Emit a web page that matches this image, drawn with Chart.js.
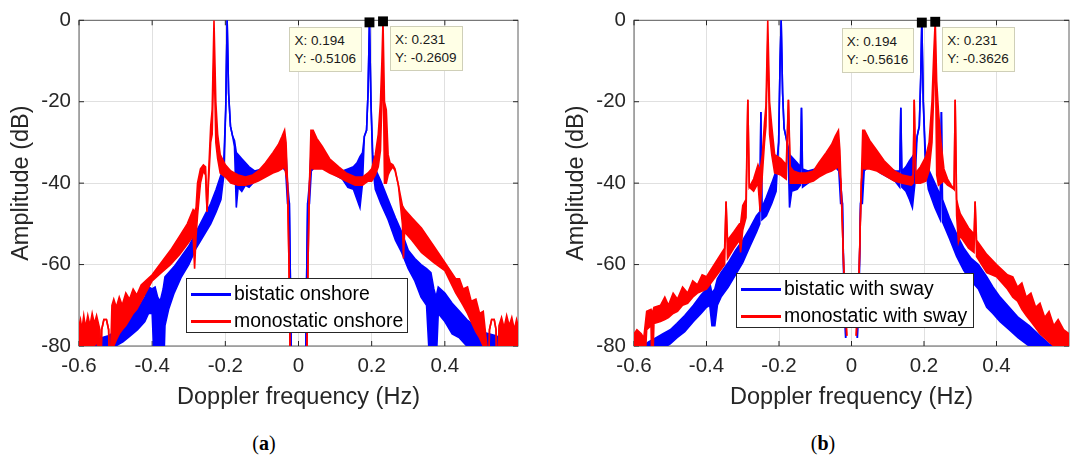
<!DOCTYPE html>
<html lang="en">
<head>
<meta charset="UTF-8">
<title>Doppler spectra, onshore and with sway</title>
<script src="https://cdn.jsdelivr.net/npm/chart.js"></script>
<style>
    body {
        margin: 0;
        width: 1072px;
        height: 459px;
        overflow: hidden;
        position: relative;
        background: #fff;
        font-family: "Liberation Sans", Arial, sans-serif;
    }
    .panel { position: absolute; top: 0; }
    .tip {
        position: absolute;
        background: #ffffe6;
        border: 1px solid #cfcfb8;
        font-size: 13.5px;
        line-height: 18px;
        color: #1a1a1a;
        padding: 4px 5px 3px 4px;
        white-space: nowrap;
    }
    .legend {
        position: absolute;
        background: #fff;
        border: 1px solid #262626;
        font-size: 19.4px;
        color: #000;
        box-sizing: border-box;
        padding-top: 1px;
    }
    .legend .row { position: relative; height: 27px; line-height: 27px; padding-left: 47px; white-space: nowrap; }
    .legend .swatch { position: absolute; left: 4px; top: 13px; width: 40px; height: 3px; }
    .caption {
        position: absolute;
        top: 431px;
        width: 100px;
        text-align: center;
        line-height: 24px;
        font-family: "Liberation Serif", "DejaVu Serif", serif;
        font-size: 20px;
        color: #000;
    }
</style>
</head>
<body>
<canvas id="chartA" class="panel" width="540" height="420" style="left:0"></canvas>
<canvas id="chartB" class="panel" width="536" height="420" style="left:540px"></canvas>

<div class="legend" style="left:186px; top:278px; width:222px; height:55px">
    <div class="row"><span class="swatch" style="background:#0000ff"></span>bistatic onshore</div>
    <div class="row"><span class="swatch" style="background:#ff0000"></span>monostatic onshore</div>
</div>
<div class="legend" style="left:736px; top:273px; width:238px; height:55px">
    <div class="row"><span class="swatch" style="background:#0000ff"></span>bistatic with sway</div>
    <div class="row"><span class="swatch" style="background:#ff0000"></span>monostatic with sway</div>
</div>

<div class="caption" style="left:214px">(<b>a</b>)</div>
<div class="caption" style="left:773px">(<b>b</b>)</div>

<script>
    // axis ticks
    const xTickValues = [-0.6, -0.4, -0.2, 0, 0.2, 0.4];
    const yTickValues = [0, -20, -40, -60, -80];

    // data tips (peak markers)
    const tipX = [0.194, 0.231];
    const tipYA = [-0.5106, -0.2609];
    const tipYB = [-0.5616, -0.3626];

    // spectra: [Hz, upper edge dB, lower edge dB]
    // the dense ripple shows as a band between the two edges
    const bistaticOnshore = [
        [-0.600, -82, -82], [-0.560, -82, -82], [-0.552, -79, -80.5], [-0.540, -78, -80.5],
        [-0.520, -77.5, -80], [-0.500, -76.5, -80], [-0.480, -75, -79], [-0.460, -73, -77.5],
        [-0.440, -71, -76], [-0.420, -68, -74], [-0.410, -65.5, -72], [-0.400, -66, -72],
        [-0.392, -65.5, -90], [-0.385, -68, -90], [-0.378, -69, -84], [-0.370, -66, -90],
        [-0.365, -63, -75], [-0.355, -62, -71], [-0.340, -60.5, -67], [-0.320, -58, -63],
        [-0.300, -55.5, -60], [-0.280, -52, -56], [-0.260, -48.5, -53], [-0.240, -45, -50],
        [-0.225, -41.5, -47], [-0.212, -38, -44], [-0.204, -34, -38], [-0.199, -22, -22],
        [-0.195, 0, 0], [-0.191, -18, -18], [-0.186, -26, -26], [-0.180, -28.5, -28.5],
        [-0.175, -29.5, -31], [-0.170, -32.5, -46], [-0.165, -33, -41], [-0.155, -34, -42],
        [-0.145, -35, -40.5], [-0.135, -36, -41], [-0.120, -37, -39.5], [-0.100, -36.5, -38.5],
        [-0.080, -34.5, -37.5], [-0.060, -32.5, -36.5], [-0.045, -29.5, -36], [-0.035, -31, -37],
        [-0.030, -40, -45], [-0.025, -45, -45], [-0.022, -65, -65], [-0.019, -90, -90],
        [0, null, null],
        [0.019, -90, -90], [0.022, -65, -65], [0.025, -45, -45], [0.030, -40, -45],
        [0.035, -31, -37], [0.045, -30, -36], [0.060, -32, -36], [0.080, -34, -37],
        [0.100, -36, -38], [0.120, -37, -39], [0.135, -36.5, -41], [0.150, -36, -41.5],
        [0.160, -35, -44], [0.168, -33.5, -46], [0.175, -32.5, -40], [0.180, -28.5, -28.5],
        [0.186, -27, -27], [0.190, -18, -18], [0.194, 0, 0], [0.198, -20, -20],
        [0.203, -33, -36], [0.210, -36.5, -41.5], [0.225, -39.5, -45], [0.245, -44, -49],
        [0.265, -48.5, -54], [0.282, -52, -57], [0.300, -56.5, -61], [0.318, -58.5, -64],
        [0.335, -60, -68], [0.350, -61, -70], [0.362, -62, -90], [0.370, -66, -90],
        [0.376, -68, -85], [0.382, -65.5, -72], [0.400, -67, -74], [0.420, -69.5, -77],
        [0.440, -71.5, -78], [0.460, -73.5, -80], [0.480, -75, -80.5], [0.500, -76.5, -81],
        [0.520, -77, -80.5], [0.540, -77.5, -80.5], [0.560, -78.5, -81], [0.580, -82, -82],
        [0.600, -82, -82]
    ];

    const monostaticOnshore = [
        [-0.600, -75, -80.5], [-0.596, -73.5, -80.5], [-0.592, -76, -80.5], [-0.587, -72.5, -80.5],
        [-0.582, -75.5, -80.5], [-0.576, -72.5, -80.5], [-0.570, -75, -80.5], [-0.564, -72, -80],
        [-0.558, -74.5, -80], [-0.552, -72.5, -79], [-0.543, -76, -82], [-0.541, -90, -90],
        [-0.538, -76, -76], [-0.532, -73.5, -73.5], [-0.525, -73.5, -73.5], [-0.519, -76, -76],
        [-0.516, -90, -90], [-0.510, -70, -80], [-0.505, -68.5, -80], [-0.498, -70.5, -78.5],
        [-0.490, -68, -77], [-0.482, -70, -76], [-0.472, -67, -75], [-0.462, -68.5, -73.5],
        [-0.452, -66, -72], [-0.442, -67.5, -71], [-0.430, -65, -69], [-0.400, -62.5, -64],
        [-0.375, -59.5, -62], [-0.350, -56.5, -60], [-0.325, -53, -57.5], [-0.304, -50, -55],
        [-0.288, -46.5, -53], [-0.284, -47, -61], [-0.280, -46, -53], [-0.276, -40, -48],
        [-0.268, -36.5, -40], [-0.260, -35.5, -37], [-0.254, -36, -38], [-0.250, -47, -47],
        [-0.246, -38, -40], [-0.240, -26, -30], [-0.236, -22, -28], [-0.231, 0, -8],
        [-0.226, -20, -30], [-0.221, -28, -34], [-0.214, -33, -37.5], [-0.200, -35.5, -38.5],
        [-0.185, -37, -40], [-0.165, -38, -40.5], [-0.145, -38.5, -40.5], [-0.125, -38, -40],
        [-0.110, -37, -39.5], [-0.090, -35, -38.5], [-0.070, -32.5, -37.5], [-0.055, -30.5, -37],
        [-0.045, -28.5, -36.5], [-0.038, -27, -36], [-0.034, -30, -38], [-0.030, -40, -40],
        [-0.026, -60, -60], [-0.022, -90, -90],
        [0, null, null],
        [0.022, -90, -90], [0.026, -60, -60], [0.030, -40, -40], [0.034, -27, -36],
        [0.040, -27, -36.5], [0.050, -29, -36.5], [0.065, -31, -36.5], [0.085, -34, -37.5],
        [0.110, -36, -38.5], [0.130, -37.5, -39.5], [0.155, -38.5, -40.5], [0.175, -38.5, -40.5],
        [0.190, -37.5, -39.5], [0.200, -36.5, -39.5], [0.210, -33, -38], [0.218, -28, -36],
        [0.224, -20, -32], [0.228, -10, -20], [0.231, 0, -8], [0.235, -20, -40],
        [0.240, -22, -40], [0.245, -33, -38], [0.250, -35, -37], [0.258, -35.5, -36],
        [0.264, -36.5, -37], [0.273, -40.5, -40.5], [0.284, -45.5, -50], [0.287, -46, -58.5],
        [0.290, -46.5, -52], [0.310, -48.5, -54], [0.336, -51, -57], [0.370, -55.5, -59.5],
        [0.400, -59.5, -61.5], [0.430, -63.5, -67], [0.440, -63.5, -68.5], [0.450, -66, -70],
        [0.462, -65.5, -72], [0.472, -69, -74], [0.485, -68.5, -76.5], [0.495, -72, -78],
        [0.505, -71.5, -80], [0.515, -80, -90], [0.519, -90, -90], [0.522, -76, -76],
        [0.528, -73.5, -73.5], [0.535, -73.5, -73.5], [0.540, -76, -76], [0.543, -90, -90],
        [0.548, -75, -80.5], [0.555, -73, -80.5], [0.562, -75.5, -80.5], [0.569, -72.5, -80.5],
        [0.576, -75, -80.5], [0.583, -73, -80.5], [0.590, -76, -80.5], [0.596, -73.5, -80.5],
        [0.600, -75, -80.5]
    ];

    const bistaticSway = [
        [-0.600, -85, -85], [-0.582, -85, -85], [-0.575, -80, -82], [-0.560, -79, -81],
        [-0.540, -78, -81], [-0.520, -77, -80.5], [-0.500, -76, -79.5], [-0.482, -74.5, -78],
        [-0.460, -72.5, -76.5], [-0.436, -70, -74], [-0.415, -67.5, -72], [-0.400, -66, -70.5],
        [-0.391, -64.5, -70], [-0.385, -67, -75], [-0.377, -66, -75], [-0.370, -63.5, -70],
        [-0.360, -62, -68], [-0.340, -59.5, -65.5], [-0.320, -56.5, -62.5], [-0.300, -54, -59.5],
        [-0.280, -51, -55.5], [-0.262, -48, -52], [-0.253, -47, -50], [-0.250, -22.5, -22.5],
        [-0.247, -46, -49], [-0.235, -43.5, -48], [-0.220, -40, -45], [-0.208, -37, -42],
        [-0.201, -30, -30], [-0.197, -10, -10], [-0.194, 0, 0], [-0.190, -18, -18],
        [-0.186, -26.5, -26.5], [-0.180, -29, -29], [-0.175, -31, -32], [-0.171, -33, -46],
        [-0.165, -33.5, -42], [-0.150, -35, -41.5], [-0.141, -36, -40.5], [-0.138, -21.5, -21.5],
        [-0.135, -36.5, -41], [-0.120, -37, -40], [-0.100, -36.5, -38.5], [-0.080, -34.5, -37.5],
        [-0.060, -32.5, -36.5], [-0.045, -29.5, -36], [-0.035, -31, -37], [-0.030, -40, -45],
        [-0.025, -45, -45], [-0.021, -65, -65], [-0.016, -78, -78],
        [0, null, null],
        [0.016, -78, -78], [0.021, -65, -65], [0.025, -45, -45], [0.030, -40, -45],
        [0.035, -31, -37], [0.045, -30, -36], [0.060, -32, -36], [0.080, -34.5, -37.5],
        [0.100, -36, -38.5], [0.120, -37, -39.5], [0.133, -37, -41], [0.136, -21.5, -21.5],
        [0.139, -37, -41], [0.150, -36, -42], [0.160, -34.5, -44], [0.168, -33.5, -46],
        [0.175, -32.5, -40], [0.181, -28.5, -28.5], [0.187, -26, -26], [0.191, -14, -14],
        [0.194, 0, 0], [0.198, -20, -20], [0.204, -33, -36], [0.212, -36.5, -41.5],
        [0.230, -40, -46], [0.245, -43, -49], [0.248, -22.5, -22.5], [0.251, -44, -49.5],
        [0.270, -48.5, -53.5], [0.290, -52.5, -58], [0.310, -56, -61.5], [0.330, -58.5, -64],
        [0.350, -60, -66], [0.373, -63, -70.5], [0.390, -65.5, -72], [0.410, -68, -74],
        [0.435, -70.5, -76], [0.460, -73, -78], [0.490, -75, -80], [0.520, -77.5, -81],
        [0.545, -79.5, -82], [0.570, -80.5, -83], [0.600, -79, -82]
    ];

    const monostaticSway = [
        [-0.600, -77, -80.5], [-0.592, -76, -80.5], [-0.580, -77, -80], [-0.573, -78, -90],
        [-0.565, -71.5, -76], [-0.553, -71, -75], [-0.550, -72, -90], [-0.545, -70.5, -74.5],
        [-0.527, -70, -74], [-0.515, -68, -73.5], [-0.505, -70, -73], [-0.492, -67, -72],
        [-0.480, -68.5, -71.5], [-0.466, -65.5, -70], [-0.452, -67, -69.5], [-0.438, -64, -68],
        [-0.425, -65, -67], [-0.412, -62.5, -66.5], [-0.400, -63, -66], [-0.375, -59.5, -63],
        [-0.350, -56, -60], [-0.346, -44.5, -44.5], [-0.342, -54, -58.5], [-0.325, -52, -56],
        [-0.309, -50, -54], [-0.306, -50, -57], [-0.300, -45.5, -51.5], [-0.291, -44, -48.5],
        [-0.286, -19.5, -19.5], [-0.282, -41, -41], [-0.270, -39, -42], [-0.258, -35.5, -40],
        [-0.252, -37, -47], [-0.246, -33, -38], [-0.240, -25, -30], [-0.236, -21, -26],
        [-0.231, 0, -5], [-0.226, -20, -28], [-0.220, -26, -33], [-0.212, -33, -37.5],
        [-0.195, -34, -38], [-0.180, -35.5, -39], [-0.174, -19.5, -19.5], [-0.169, -36, -40],
        [-0.160, -37, -40], [-0.145, -37.5, -40], [-0.125, -37.5, -40], [-0.105, -37, -39.5],
        [-0.090, -35, -38.5], [-0.070, -32.5, -37.5], [-0.055, -30.5, -37], [-0.045, -28.5, -36.5],
        [-0.036, -27, -36], [-0.032, -32, -38], [-0.029, -40, -40], [-0.021, -62, -62],
        [-0.013, -77.5, -77.5],
        [0, null, null],
        [0.013, -77.5, -77.5], [0.021, -62, -62], [0.027, -40, -40], [0.031, -27, -36],
        [0.036, -27, -36.5], [0.050, -29.5, -36.5], [0.070, -32, -37], [0.090, -34.5, -38],
        [0.118, -37, -39.5], [0.140, -38, -40], [0.165, -38.5, -40.5], [0.170, -38, -40],
        [0.173, -19.5, -19.5], [0.177, -37.5, -40], [0.190, -36, -40], [0.205, -33.5, -39.5],
        [0.214, -30, -37], [0.222, -20, -30], [0.227, -8, -18], [0.231, 0, -5],
        [0.235, -15, -38], [0.240, -22.5, -40.5], [0.247, -30, -40], [0.255, -36.5, -39.5],
        [0.265, -39, -40.5], [0.275, -40.5, -41], [0.283, -41.5, -41.5], [0.286, -19.5, -19.5],
        [0.290, -44, -48], [0.295, -46, -54.5], [0.300, -47.5, -53], [0.323, -51, -56],
        [0.338, -52.5, -57], [0.341, -44.5, -44.5], [0.345, -54, -58], [0.373, -57.5, -62],
        [0.400, -60, -63], [0.430, -62.5, -66], [0.445, -63, -68], [0.458, -65.5, -69],
        [0.470, -64.5, -71], [0.482, -68, -72.5], [0.495, -67, -74], [0.508, -70.5, -75.5],
        [0.520, -69.5, -77], [0.533, -73, -78], [0.545, -71.5, -79], [0.558, -75, -80],
        [0.570, -73.5, -80.5], [0.585, -76, -80.5], [0.600, -77, -80.5]
    ];

    const tickFont = { family: 'Liberation Sans', size: 20.5 };
    const titleFont = { family: 'Liberation Sans', size: 23.5 };
    const textColor = '#262626';

    // box round the axes plus short inward ticks, like MATLAB's "box on"
    const framePlugin = {
        id: 'frame',
        beforeDatasetsDraw(chart) {
            const { ctx, chartArea: a, scales } = chart;
            ctx.save();
            ctx.strokeStyle = '#5e5e5e';
            ctx.lineWidth = 1;
            ctx.strokeRect(a.left, a.top, a.right - a.left, a.bottom - a.top);
            ctx.strokeStyle = textColor;
            ctx.beginPath();
            xTickValues.forEach(v => {
                const px = scales.x.getPixelForValue(v);
                ctx.moveTo(px, a.bottom); ctx.lineTo(px, a.bottom - 5);
                ctx.moveTo(px, a.top); ctx.lineTo(px, a.top + 5);
            });
            yTickValues.forEach(v => {
                const py = scales.y.getPixelForValue(v);
                ctx.moveTo(a.left, py); ctx.lineTo(a.left + 5, py);
                ctx.moveTo(a.right, py); ctx.lineTo(a.right - 5, py);
            });
            ctx.stroke();
            ctx.restore();
        }
    };

    function edge(rows, k) {
        return rows.map(r => ({ x: r[0], y: r[k] }));
    }

    // two datasets per trace: upper edge, and lower edge filled up to it
    function band(rows, color, order) {
        const common = { borderColor: color, backgroundColor: color, borderWidth: 1.6, pointRadius: 0, order: order };
        return [
            Object.assign({ data: edge(rows, 1), fill: false }, common),
            Object.assign({ data: edge(rows, 2), fill: '-1' }, common)
        ];
    }

    function makeChart(id, blueRows, redRows, tipY, yAxisWidth, padRight, yTitlePad) {
        const markers = {
            data: tipX.map((x, i) => ({ x: x, y: tipY[i] })),
            showLine: false,
            pointStyle: 'rect',
            pointRadius: 7,
            backgroundColor: '#000',
            borderColor: '#000',
            borderWidth: 0,
            clip: false,
            order: 0
        };
        return new Chart(document.getElementById(id), {
            type: 'line',
            data: { datasets: [...band(blueRows, '#0000ff', 2), ...band(redRows, '#ff0000', 1), markers] },
            options: {
                responsive: false,
                animation: false,
                devicePixelRatio: 1,
                layout: { padding: { top: 16, right: padRight, left: 0, bottom: 0 } },
                elements: { line: { tension: 0 } },
                plugins: { legend: { display: false }, tooltip: { enabled: false } },
                scales: {
                    x: {
                        type: 'linear',
                        min: -0.6,
                        max: 0.6,
                        afterBuildTicks: s => { s.ticks = xTickValues.map(v => ({ value: v })); },
                        afterFit: s => { s.height = 74; },
                        ticks: {
                            font: tickFont,
                            color: textColor,
                            padding: 8,
                            maxRotation: 0,
                            callback: v => String(Math.round(v * 10) / 10)
                        },
                        grid: { color: '#e0e0e0', drawTicks: false },
                        border: { display: false },
                        title: {
                            display: true,
                            text: 'Doppler frequency (Hz)',
                            font: titleFont,
                            color: textColor,
                            padding: { top: 0, bottom: 8 }
                        }
                    },
                    y: {
                        min: -80,
                        max: 0,
                        afterBuildTicks: s => { s.ticks = yTickValues.map(v => ({ value: v })); },
                        afterFit: s => { s.width = yAxisWidth; },
                        ticks: { font: tickFont, color: textColor, padding: 8 },
                        grid: { color: '#e0e0e0', drawTicks: false },
                        border: { display: false },
                        title: {
                            display: true,
                            text: 'Amplitude (dB)',
                            font: titleFont,
                            color: textColor,
                            padding: { top: yTitlePad, bottom: 0 }
                        }
                    }
                }
            },
            plugins: [framePlugin]
        });
    }

    // MATLAB style data tips next to the markers
    function addTips(chart, offsetLeft, tipY) {
        tipX.forEach((x, i) => {
            const px = offsetLeft + chart.scales.x.getPixelForValue(x);
            const py = chart.scales.y.getPixelForValue(tipY[i]);
            const box = document.createElement('div');
            box.className = 'tip';
            box.innerHTML = 'X: ' + x + '<br>Y: ' + tipY[i];
            document.body.appendChild(box);
            box.style.top = (py + 5) + 'px';
            if (i === 0) {
                box.style.left = (px - 7 - box.offsetWidth) + 'px';
            } else {
                box.style.left = (px + 7) + 'px';
            }
        });
    }

    const chartA = makeChart('chartA', bistaticOnshore, monostaticOnshore, tipYA, 79, 22, 7.5);
    const chartB = makeChart('chartB', bistaticSway, monostaticSway, tipYB, 94, 2.5, 22);
    addTips(chartA, 0, tipYA);
    addTips(chartB, 540, tipYB);
</script>
</body>
</html>
